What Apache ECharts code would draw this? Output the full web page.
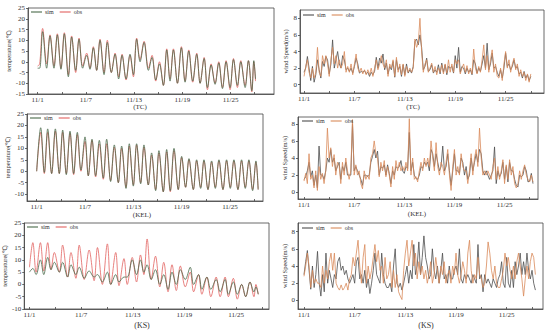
<!DOCTYPE html>
<html><head><meta charset="utf-8">
<script src="https://cdn.jsdelivr.net/npm/echarts@6/dist/echarts.min.js"></script>
<style>html,body{margin:0;padding:0;background:#fff}#c{width:550px;height:333px}</style>
</head><body><div id="c"></div><script>
// ---- time axis labels / ticks (days since 11/1 00:00) ----
const dateLabelDays = [0, 6, 12, 18, 24];
const dateTickDays = [0, 3, 6, 9, 12, 15, 18, 21, 24, 27];
const tcTempTicks = [-15, -10, -5, 0, 5, 10, 15, 20, 25];
const kelTempTicks = [-10, -5, 0, 5, 10, 15, 20, 25];
const ksTempTicks = [-10, -5, 0, 5, 10, 15, 20, 25];
const windTicks = [0, 2, 4, 6, 8];

// ---- TC temperature ----
const tcTempTimes = [0,0.25,0.62,1.12,1.54,2.03,2.45,2.9,3.32,3.82,4.23,4.73,5.15,5.6,6.1,6.51,6.93,7.34,7.76,8.26,8.67,9.17,9.63,10.08,10.5,11.0,11.49,11.91,12.32,12.74,13.24,13.78,14.23,14.69,15.15,15.64,16.06,16.47,16.89,17.39,17.88,18.34,18.8,19.29,19.79,20.21,20.71,21.12,21.58,22.07,22.53,22.99,23.44,23.94,24.36,24.85,25.27,25.81,26.22,26.64,26.89,27.1];
const tcTempObs = [-2,-1,15.5,-1,12.5,-2,13,-3,13.5,-6,12,-5,11,-2,4,-3,7,-4,10.5,-5,10,-5,4,-7,3.5,-8.5,3,-7,11,1,9.5,-3,3,-9,0,-11,6,-8,6,-10,7,-9,5.5,-9.5,4,-10,2,-13,-1,-10,0,-12,0.5,-13,1.5,-12,0.5,-11,0.5,-14,0,-9];
const tcTempSim = [-3,-3,14,-3,12,-3,12.5,-3.5,13,-7,11.5,-4,10.5,-3,3,-3.5,6.5,-4,10,-6,9,-5,3.5,-8,3,-8,3.5,-6,10.5,0,9,-4,2,-8.5,-1,-11,5.5,-9,5.5,-10,6.5,-9.5,5,-9,3.5,-10,1.5,-12,-1.5,-10.5,-0.5,-12.5,0,-12,1,-11,0,-12,0.5,-13.5,0.5,-8];

// ---- KEL temperature ----
const kelTempTimes = [0,0.5,0.95,1.37,1.86,2.32,2.81,3.23,3.68,4.14,4.59,5.05,5.5,6.0,6.41,6.87,7.32,7.78,8.27,8.69,9.18,9.64,10.14,10.55,11.09,11.5,12.0,12.41,12.91,13.32,13.86,14.27,14.77,15.18,15.72,16.14,16.59,17.05,17.58,18.0,18.49,18.91,19.45,19.86,20.36,20.77,21.27,21.72,22.18,22.63,23.13,23.58,24.04,24.49,24.99,25.44,25.9,26.35,26.81,27.22,27.5];
const kelTempObs = [0,17,-1,17,-1,17.5,-1,17,-1,16.5,-1.5,16,0,13,-2,13.5,-2.5,12,-3.5,12,-4,10.5,-5,10,-7,11,-6,11.5,-5,10.5,-6,7,-8,8,-9,8.5,-9,9,-8,6,-7,5,-8,4.5,-7,4.5,-8,4,-7,4.5,-8,4.5,-7,4.5,-8,4.5,-7,4.5,-8,4,-8];
const kelTempSim = [0,19,-0.5,18.5,-1,18.5,-1,18,-1.5,17.5,-1,17,0.5,15,-2,14,-2,13.5,-3,14,-4.5,11.5,-5,11,-7.5,12,-6.5,12,-5.5,11.5,-6,8,-8.5,9,-9,9.5,-8.5,10,-8,6.5,-7,5.5,-8,5,-7.5,5,-8,4.5,-7.5,5,-8,5,-7.5,5,-8,5,-7.5,5,-8.5,4.5,-8];

// ---- KS temperature ----
const ksTempTimes = [0,0.39,0.77,1.27,1.66,2.12,2.5,2.89,3.47,3.85,4.43,4.82,5.39,5.78,6.36,6.93,7.51,7.9,8.47,9.05,9.44,10.02,10.4,10.98,11.36,11.94,12.44,12.9,13.29,13.67,14.14,14.64,15.14,15.6,16.1,16.56,17.06,17.53,18.1,18.68,19.07,19.65,20.03,20.61,21.07,21.69,22.15,22.73,23.11,23.69,24.15,24.65,25.12,25.62,26.08,26.31,26.58];
const ksTempObs = [7,17,5,17,5.5,17,6,13,5,16,3,13,2.5,16,2,14,1.5,15,0,16.5,0,13,-0.5,10.5,0,11,1,12,4,18.5,2,11.5,-1,9,-3,8,-2.5,7.5,-1,5,-3,4,-4,3,-5,3,-5,3,-5,2.5,-6,0,-5,1,-5,0,-4];
const ksTempSim = [5,6.5,4,10,4,11,6,9,5,9,3,8,4,7,2.5,5.5,3,4,1,5,0,4,1,3,3,10,4,10,5,8,2,6,0,4,-2,5,0,6,2,7,0,4,-2,3,-2,2,-3,2,-4,1,-4,0,-5,1,-3,-1,-4];

// ---- wind speed sample times (days since 11/1) ----
const windTimes = [
0,0.2,0.4,0.6,0.8,1,1.2,1.4,1.6,1.8,
2,2.2,2.4,2.6,2.8,3,3.2,3.4,3.6,3.8,
4,4.2,4.4,4.6,4.8,5,5.2,5.4,5.6,5.8,
6,6.2,6.4,6.6,6.8,7,7.2,7.4,7.6,7.8,
8,8.2,8.4,8.6,8.8,9,9.2,9.4,9.6,9.8,
10,10.2,10.4,10.6,10.8,11,11.2,11.4,11.6,11.8,
12,12.2,12.4,12.6,12.8,13,13.2,13.4,13.6,13.8,
14,14.2,14.4,14.6,14.8,15,15.2,15.4,15.6,15.8,
16,16.2,16.4,16.6,16.8,17,17.2,17.4,17.6,17.8,
18,18.2,18.4,18.6,18.8,19,19.2,19.4,19.6,19.8,
20,20.2,20.4,20.6,20.8,21,21.2,21.4,21.6,21.8,
22,22.2,22.4,22.6,22.8,23,23.2,23.4,23.6,23.8,
24,24.2,24.4,24.6,24.8,25,25.2,25.4,25.6,25.8,
26,26.2,26.4,26.6,26.8,27,27.2,27.4];

const tcWindObs = [1.0,2.2,3.0,1.5,0.8,2.0,0.8,1.5,4.5,1.5,1.0,
3.5,2.5,3.5,2.5,1.0,3.0,4.5,2.5,3.5,2.0,3.0,2.0,2.5,4.0,1.5,
2.2,1.5,2.5,1.2,2.5,3.7,2.0,1.5,2.0,1.3,1.8,1.2,1.8,1.2,2.0,1.0,2.0,
3.0,1.8,2.5,3.5,2.5,2.0,3.0,1.0,2.5,2.0,3.0,1.0,3.3,1.5,2.5,1.2,2.5,1.0,2.2,1.5,2.0,1.5,2.0,5.5,4.5,5.0,8.0,
4.0,1.5,
2.5,3.0,1.5,2.0,2.6,1.5,2.2,1.2,2.0,1.5,2.4,1.3,2.5,1.4,3.0,1.5,2.5,1.5,3.0,2.5,3.0,1.3,2.0,2.5,1.5,2.3,1.3,2.0,1.3,4.3,2.0,1.3,2.2,1.5,3.0,4.8,1.8,3.5,1.5,3.0,4.2,1.5,2.5,1.0,0.8,2.0,0.5,2.5,4.0,2.0,3.0,1.5,2.5,3.2,1.8,2.5,1.0,1.8,1.0,1.5,0.5,1.3,0.3,1.3];
const tcWindSim = [1.5,2.0,3.4,2.0,0.5,2.2,0.3,1.2,3.0,1.8,0.8,
2.8,2.2,3.4,3.0,1.3,2.5,5.4,2.0,3.0,4.0,2.5,2.0,3.5,3.0,1.8,
2.0,1.6,2.0,1.4,2.2,3.2,2.5,1.4,1.6,1.5,1.7,1.3,1.5,1.0,1.5,1.2,1.6,
3.3,2.0,3.2,2.6,3.7,1.8,2.6,1.3,2.2,1.8,2.8,0.9,3.0,1.8,2.2,1.0,2.4,1.2,2.5,1.4,1.8,1.4,2.2,5.2,5.5,4.8,6.0,
4.5,1.8,
2.2,3.2,1.6,1.8,2.4,1.4,1.8,1.5,2.4,1.3,2.6,1.5,2.4,1.2,2.2,2.0,2.2,1.4,3.5,2.0,4.5,1.5,2.2,2.0,1.3,2.0,1.5,1.8,1.2,3.0,2.5,1.4,2.0,1.6,2.5,3.5,2.0,5.0,1.8,2.5,3.8,2.0,2.2,1.5,1.0,1.8,0.8,2.0,3.8,2.2,2.5,1.8,2.2,3.0,2.0,2.2,1.3,1.5,0.8,1.6,0.8,1.2,0.5,1.0];

const kelWindObs = [1.3,2.2,1.0,4.5,1.5,2.0,0.5,2.5,0.2,3.0,
1.5,2.2,1.0,2.5,7.5,4.0,5.2,3.0,4.4,2.0,
3.5,3.2,1.0,3.5,2.0,4.0,2.5,1.5,2.5,8.5,
2.0,3.2,2.0,2.5,1.0,0.4,2.5,1.5,2.0,1.5,
4.0,4.5,6.0,4.5,4.0,1.8,3.5,2.5,3.7,1.8,
3.0,2.0,0.6,3.0,1.5,3.7,2.5,3.5,2.5,3.0,
2.5,3.5,2.5,8.6,2.0,4.0,1.5,1.8,1.2,2.5,
3.5,2.5,4.0,3.0,4.0,3.0,6.0,4.0,2.5,5.8,
3.0,2.0,3.5,3.0,2.0,3.5,5.0,2.0,0.2,3.0,
5.0,2.0,3.0,2.0,4.5,3.0,2.5,2.5,1.0,2.5,
4.5,2.0,4.0,5.0,3.0,7.5,4.0,2.0,2.5,2.0,
2.5,2.0,1.5,3.0,4.0,1.5,3.0,1.5,2.5,3.8,
1.0,3.2,1.5,3.8,2.0,3.0,1.0,0.5,1.0,2.5,
1.5,2.5,3.2,2.0,1.5,1.2,2.0,1.2];
const kelWindSim = [1.5,1.8,2.5,3.5,1.8,2.5,0.8,2.0,0.5,5.4,
2.0,2.0,1.5,2.5,4.0,3.5,5.0,3.5,4.0,2.5,
3.0,3.5,1.5,3.0,2.5,3.5,2.0,2.0,2.0,8.0,
2.5,3.0,2.5,2.0,1.5,0.8,2.0,2.0,1.8,2.0,
3.5,4.2,5.0,4.0,4.8,2.0,3.0,2.8,3.2,2.0,
3.2,2.2,1.0,2.5,2.0,3.0,2.8,3.0,3.7,2.5,
2.2,3.0,2.8,7.0,2.5,3.5,2.0,1.6,1.5,2.0,
3.0,2.8,3.5,3.2,3.5,2.5,5.0,4.5,3.0,4.5,
3.5,2.5,3.0,5.4,2.5,3.0,4.5,2.5,0.8,2.5,
4.5,2.5,2.5,2.2,4.0,3.5,2.0,3.0,1.5,2.0,
4.0,2.5,3.5,4.5,3.5,5.0,4.5,2.5,2.0,2.5,
2.0,1.5,2.0,2.5,5.3,1.0,2.5,1.8,2.2,3.5,
1.5,3.0,1.2,3.5,2.5,2.5,1.5,0.8,0.6,2.0,
1.8,2.0,3.0,2.5,1.2,1.3,2.2,1.0];

const ksWindObs = [2.8,4.0,5.5,4.0,1.5,3.5,2.0,2.5,2.0,2.0,
1.5,4.0,2.0,3.5,2.5,4.5,5.5,3.5,5.5,2.0,
1.5,1.2,1.8,1.2,1.5,2.0,1.2,2.5,3.0,5.0,
4.0,5.5,7.0,4.0,2.0,5.0,6.5,2.0,4.0,2.5,
3.5,5.0,6.5,4.5,5.8,3.5,4.0,2.0,5.0,2.5,
3.0,4.5,1.5,3.5,1.5,3.0,1.0,0.5,0.1,3.5,
5.5,7.0,4.0,5.5,7.0,4.0,5.5,2.5,4.5,3.0,
4.0,2.5,3.5,2.0,3.0,4.5,2.0,3.0,5.0,3.5,
2.0,4.0,3.0,4.5,2.0,3.0,3.5,2.0,4.0,3.0,
5.5,3.0,2.0,3.0,4.5,3.5,2.0,5.5,7.0,3.5,
2.0,3.0,2.5,5.0,3.0,2.5,1.5,2.0,4.0,6.8,
5.5,3.5,2.5,4.0,2.0,1.5,1.5,2.5,3.5,5.5,
4.0,5.0,3.5,2.5,4.0,2.5,4.5,5.5,4.0,2.5,
0.5,2.5,4.0,2.5,4.5,5.5,5.0,3.0];
const ksWindSim = [3.0,4.5,5.8,3.5,1.3,4.0,1.5,3.0,5.7,2.0,
0.5,3.0,1.0,5.5,2.0,3.5,2.5,1.5,3.0,2.5,
4.5,5.0,3.5,4.0,3.0,3.5,2.5,2.0,2.5,3.0,
2.0,4.5,5.0,2.5,3.0,2.0,3.5,1.5,2.5,0.8,
2.0,3.5,5.5,3.0,2.5,2.0,5.5,3.0,2.0,1.5,
1.5,2.0,1.0,4.0,6.0,2.0,1.5,2.0,1.2,2.0,
3.0,4.0,2.0,3.5,2.5,6.5,3.0,4.0,6.8,3.0,
5.0,7.5,5.0,4.0,2.5,3.0,6.0,3.5,2.5,4.0,
2.0,3.5,5.5,2.5,3.0,2.0,4.0,2.5,2.5,3.5,
4.0,3.0,6.0,2.5,2.0,3.0,2.5,3.0,2.5,2.0,
3.0,2.5,2.0,6.5,2.5,3.0,1.0,3.0,2.0,2.5,
2.0,1.5,2.5,2.0,1.5,2.5,3.0,4.5,2.0,1.5,
5.0,2.0,1.5,3.5,1.5,4.5,3.0,4.0,5.5,3.0,
4.5,3.0,5.5,3.5,2.5,3.5,2.0,1.2];

// ---- build chart ----
const FONT = '"Liberation Serif", "Times New Roman", serif';
const TXT = '#333';
const AX = '#444';
const TEMP_C = ['#4a6a4a', '#e2625f'];
const WIND_C = ['#4e4e4e', '#d98a5a'];

const panels = [
  {g:[28,8,246,86], xr:[-1.2,29.4], yr:[-15,25], yt:tcTempTicks, yn:'temperature(℃)', ng:12, temp:true,
   t:tcTempTimes, sim:tcTempSim, obs:tcTempObs, c:TEMP_C, leg:[31,9], ttl:['(TC)',140,107,7]},
  {g:[300,10,244,83], xr:[-0.48,28.57], yr:[-1,9], yt:windTicks, yn:'wind Speed(m/s)', ng:11, temp:false,
   t:windTimes, sim:tcWindSim, obs:tcWindObs, c:WIND_C, leg:[303,12], ttl:['(TC)',413,106.5,7]},
  {g:[27,114,236,87], xr:[-1.2,28.1], yr:[-13,25], yt:kelTempTicks, yn:'temperature(℃)', ng:11, temp:true,
   t:kelTempTimes, sim:kelTempSim, obs:kelTempObs, c:TEMP_C, leg:[30,115], ttl:['(KEL)',142,215,7]},
  {g:[298,117,240,82], xr:[-0.72,28.0], yr:[-0.8,8.8], yt:windTicks, yn:'wind Speed(m/s)', ng:10, temp:false,
   t:windTimes, sim:kelWindSim, obs:kelWindObs, c:WIND_C, leg:[302,118], ttl:['(KEL)',417,213.5,7]},
  {g:[23,223,246,86], xr:[-0.61,27.83], yr:[-10,25], yt:ksTempTicks, yn:'temperature(℃)', ng:11, temp:true,
   t:ksTempTimes, sim:ksTempSim, obs:ksTempObs, c:TEMP_C, leg:[27,224], ttl:['(KS)',142,325,8]},
  {g:[298,223,245,86], xr:[-0.71,28.3], yr:[-1,9], yt:windTicks, yn:'wind Speed(m/s)', ng:9, temp:false,
   t:windTimes, sim:ksWindSim, obs:ksWindObs, c:WIND_C, leg:[302,225], ttl:['(KS)',426,325,8]}
];

function pairs(t, v) { return v.map((y, i) => [t[i], y]); }

const option = {
  animation: false,
  backgroundColor: '#fff',
  grid: [], xAxis: [], yAxis: [], series: [], legend: [], graphic: []
};

panels.forEach((p, i) => {
  option.grid.push({left:p.g[0], top:p.g[1], width:p.g[2], height:p.g[3], show:true,
    borderColor:AX, borderWidth:0.8, backgroundColor:'transparent'});
  option.xAxis.push({type:'value', gridIndex:i, min:p.xr[0], max:p.xr[1],
    axisLine:{show:true, onZero:false, lineStyle:{color:AX, width:0.8}},
    axisTick:{show:true, inside:true, length:2, customValues:dateTickDays, lineStyle:{color:AX, width:0.8}},
    axisLabel:{customValues:dateLabelDays, formatter:(v)=>'11/' + (Math.round(v) + 1),
      fontSize:7, fontFamily:FONT, color:TXT, margin:2},
    splitLine:{show:false}});
  option.yAxis.push({type:'value', gridIndex:i, min:p.yr[0], max:p.yr[1],
    name:p.yn, nameLocation:'middle', nameGap:p.ng,
    nameTextStyle:{fontSize:6.5, fontFamily:FONT, color:TXT},
    axisLine:{show:true, onZero:false, lineStyle:{color:AX, width:0.8}},
    axisTick:{show:true, inside:false, length:2, customValues:p.yt, lineStyle:{color:AX, width:0.8}},
    axisLabel:{customValues:p.yt, fontSize:7, fontFamily:FONT, color:TXT, margin:3},
    splitLine:{show:false}});
  const sm = p.temp ? 0.35 : false;
  const simS = {type:'line', name:'sim', xAxisIndex:i, yAxisIndex:i, data:pairs(p.t, p.sim), smooth:sm,
    symbol:'none', lineStyle:{width:0.8, color:p.c[0]}, itemStyle:{color:p.c[0]}, z: p.temp ? 3 : 2};
  const obsS = {type:'line', name:'obs', xAxisIndex:i, yAxisIndex:i, data:pairs(p.t, p.obs), smooth:sm,
    symbol:'none', lineStyle:{width:0.8, color:p.c[1]}, itemStyle:{color:p.c[1]}, z: p.temp ? 2 : 3};
  option.series.push(simS, obsS);
  option.legend.push({left:p.leg[0], top:p.leg[1], padding:0, itemWidth:11, itemHeight:5, itemGap:6,
    selectedMode:false,
    textStyle:{fontSize:6, fontFamily:FONT, color:TXT, padding:[0,0,0,-2]},
    data:[
      {name:'sim', icon:'path://M0,0 L10,0 L10,1 L0,1 Z', itemStyle:{color:p.c[0]}, lineStyle:{color:p.c[0]}},
      {name:'obs', icon:'path://M0,0 L10,0 L10,1 L0,1 Z', itemStyle:{color:p.c[1]}, lineStyle:{color:p.c[1]}}
    ]});
  option.graphic.push({type:'text', x:p.ttl[1], y:p.ttl[2],
    style:{text:p.ttl[0], fill:TXT, font:p.ttl[3] + 'px ' + FONT, textAlign:'center', textVerticalAlign:'middle'}});
});

const chart = echarts.init(document.getElementById('c'), null, {renderer:'svg'});
chart.setOption(option);
</script></body></html>
